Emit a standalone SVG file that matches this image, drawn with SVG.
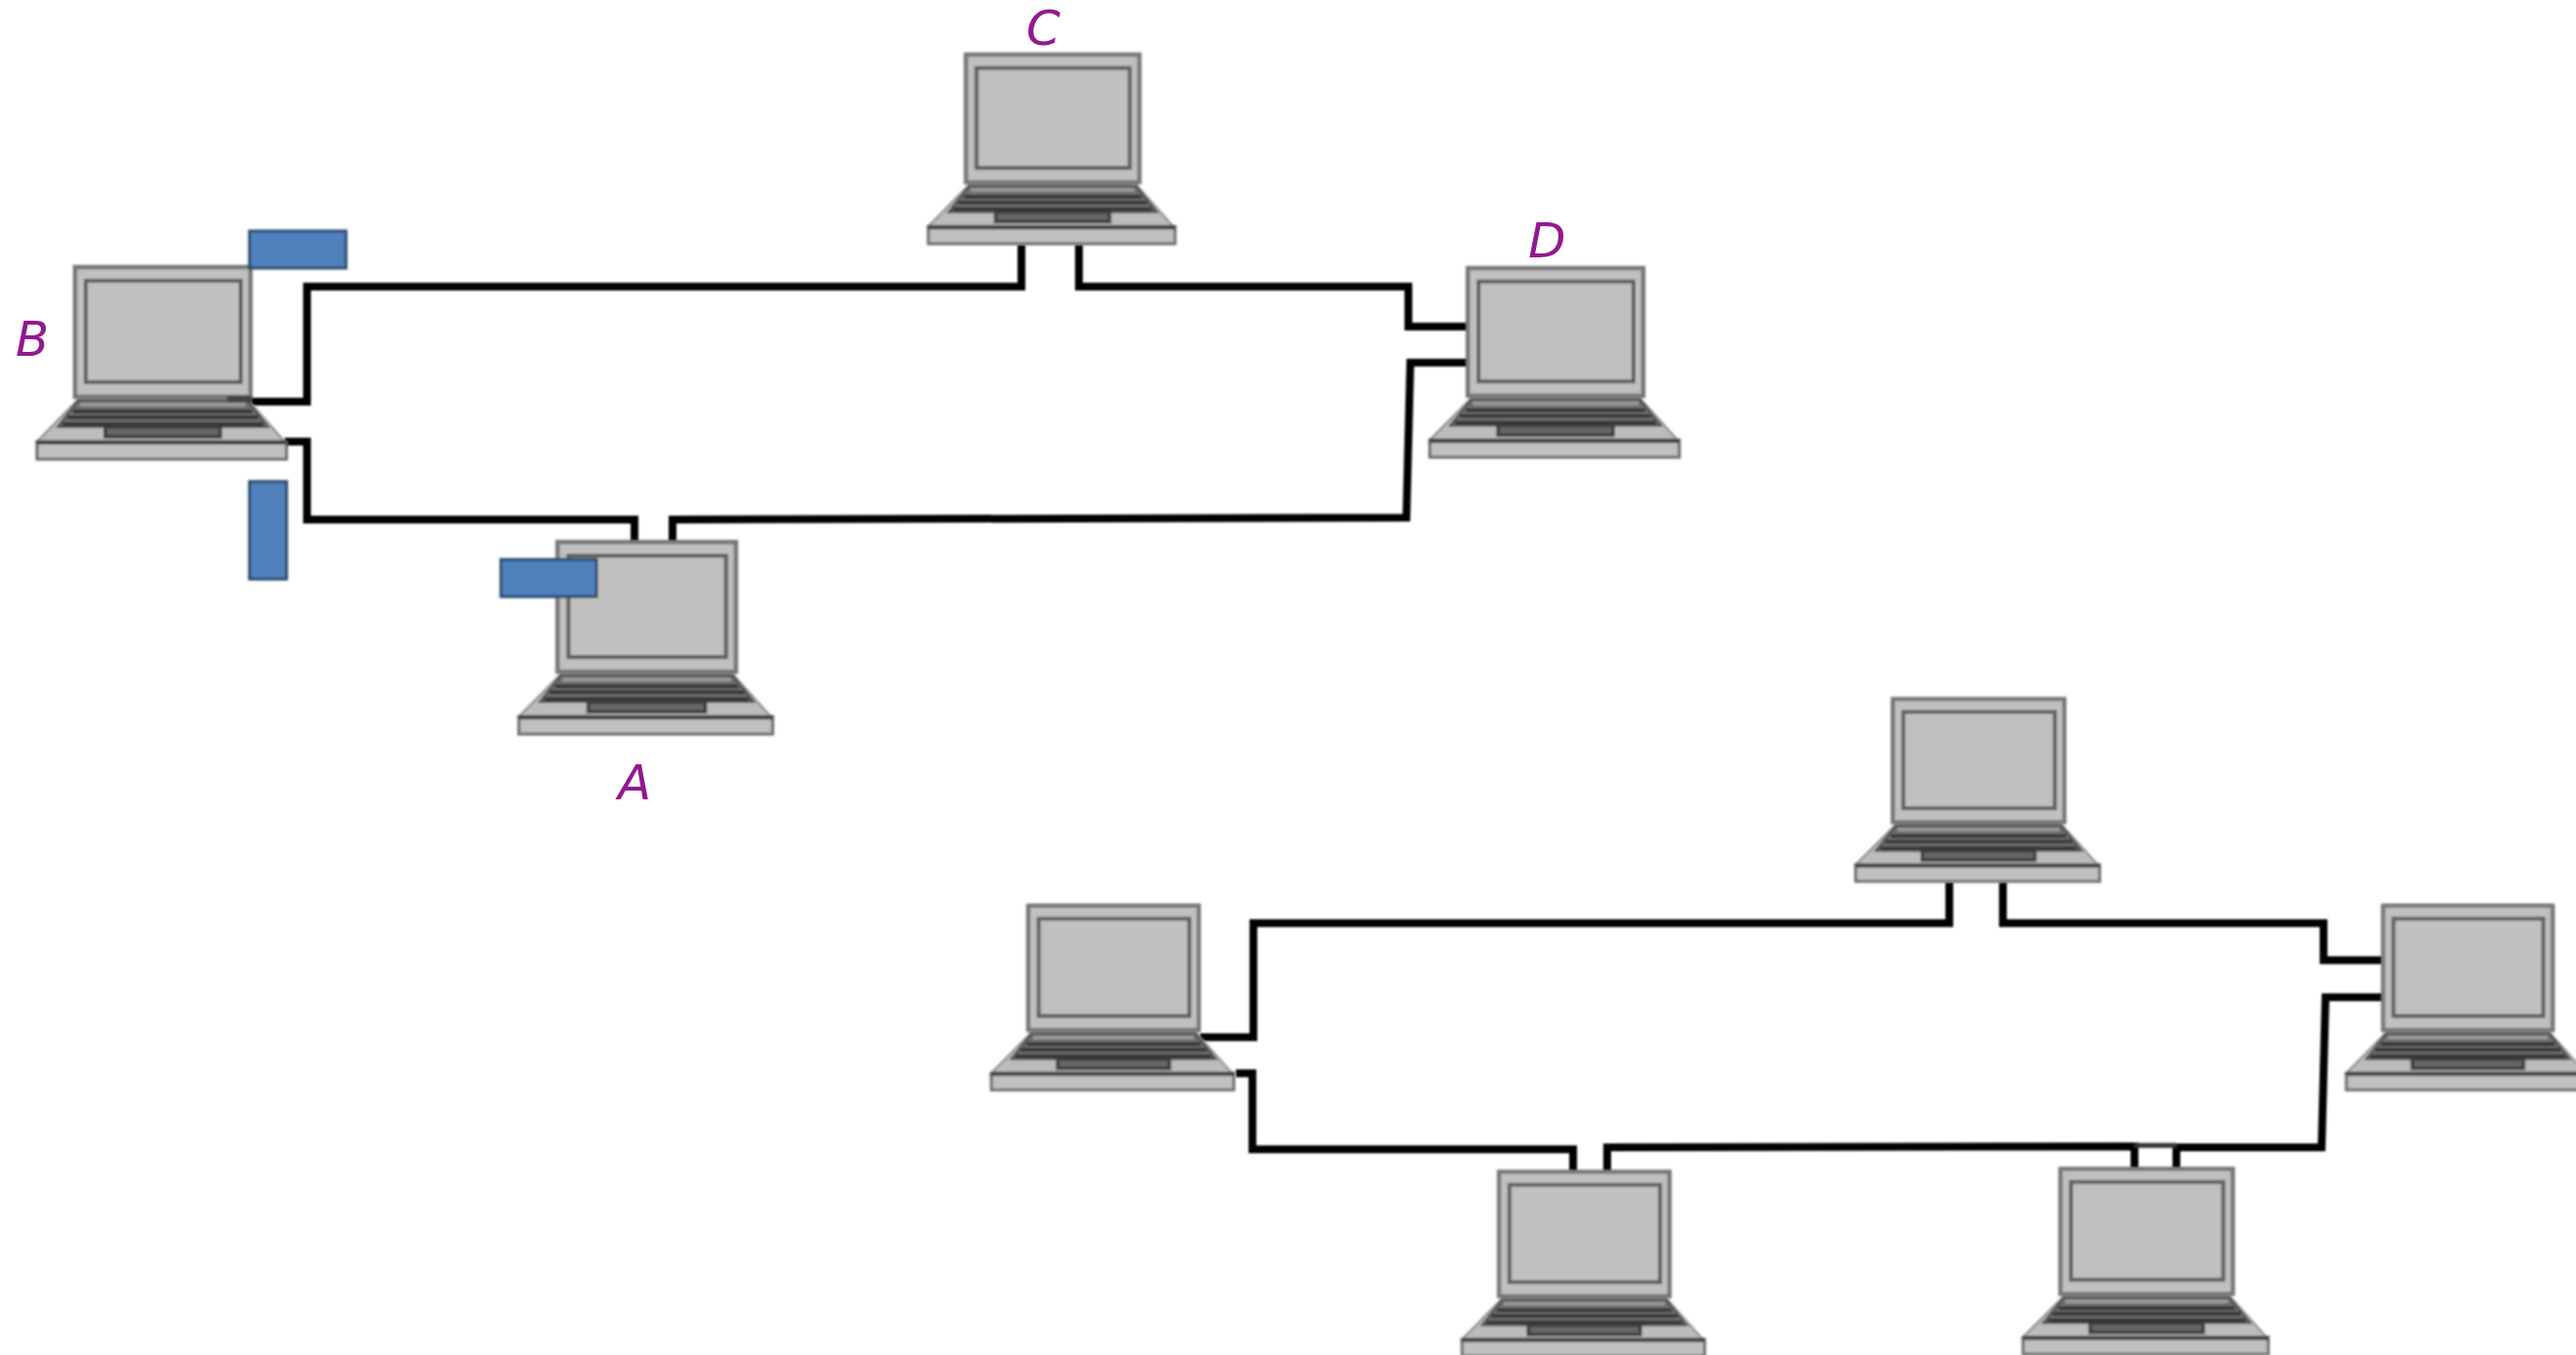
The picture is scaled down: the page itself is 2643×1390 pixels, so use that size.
<svg xmlns="http://www.w3.org/2000/svg" xmlns:xlink="http://www.w3.org/1999/xlink" width="2643" height="1390" viewBox="0 0 2643 1390">
<style>
.wire{fill:none;stroke:#000;stroke-width:8;stroke-linejoin:miter}
.thin{fill:none;stroke:#333;stroke-width:5}
.lbl{font-family:"DejaVu Sans","Open Sans",sans-serif;font-style:italic;font-size:50px;fill:#92198f}
.tag{fill:#4f81bd;stroke:#2f4a6e;stroke-width:3}
.body{fill:#c0c0c0;stroke:#777;stroke-width:4.5}
.panel{fill:#c0c0c0;stroke:#5e5e5e;stroke-width:4}
.kb{fill:#bcbcbc;stroke:#969696;stroke-width:2.5}
.keys{fill:#6c6c6c;stroke:#484848;stroke-width:2}
.key{stroke:#333;stroke-width:3.5;fill:none}
.front{fill:#c0c0c0;stroke:#6a6a6a;stroke-width:3}
.fronttop{stroke:#3f3f3f;stroke-width:4;fill:none}
.pad{fill:#666;stroke:#3c3c3c;stroke-width:3.5}
</style>
<defs>
<filter id="soft" x="-5%" y="-5%" width="110%" height="110%"><feGaussianBlur stdDeviation="0.8"/></filter>
<g id="laptop">
<path class="kb" d="M3 136H177L215 179H-39Z"/>
<path class="keys" d="M3 137H177L198 164H-18Z"/>
<path d="M5 139H175V143H5Z" fill="#999"/>
<path class="key" d="M-2 148H182M-8 154H188M-13 161H193"/>
<rect class="pad" x="31" y="164" width="118" height="10"/>
<rect class="front" x="-39" y="179" width="256" height="18"/>
<path class="fronttop" d="M-39 180H217"/>
<rect class="body" x="0" y="0" width="180" height="133"/>
<rect class="panel" x="11" y="14" width="159" height="104"/>
</g>
</defs>
<rect width="2643" height="1390" fill="#fff"/>
<g id="connectors" filter="url(#soft)">
<path class="wire" d="M257 412H315V294H1048V251"/>
<path class="wire" d="M1107 251V294H1445V335H1506"/>
<path class="wire" d="M1506 372H1447L1443 531L690 533V556"/>
<path class="wire" d="M651 556V533H315V453H292"/>
<path class="wire" d="M1231 1064H1286V947H2000V905"/>
<path class="wire" d="M2055 905V947H2384V985H2445"/>
<path class="wire" d="M2445 1023H2386L2382 1177H2233V1199"/>
<path class="wire" d="M2190 1199V1176L1649 1177V1202"/>
<path class="wire" d="M1614 1202V1179H1285V1101H1268"/>
<path class="thin" d="M2190 1175H2233"/>
</g>
<g filter="url(#soft)">
<g id="laptop-B"><use xlink:href="#laptop" href="#laptop" transform="translate(77 274)"/><rect x="233" y="406" width="26" height="7" fill="#444"/></g>
<g id="laptop-C"><use xlink:href="#laptop" href="#laptop" transform="translate(991 56) scale(.989 .985)"/></g>
<g id="laptop-D"><use xlink:href="#laptop" href="#laptop" transform="translate(1506 275) scale(1 .985)"/></g>
<g id="laptop-A"><use xlink:href="#laptop" href="#laptop" transform="translate(572 556) scale(1.017 1)"/></g>
<g id="laptop-top"><use xlink:href="#laptop" href="#laptop" transform="translate(1942 717) scale(.978 .95)"/></g>
<g id="laptop-left"><use xlink:href="#laptop" href="#laptop" transform="translate(1055 929) scale(.972 .96)"/></g>
<g id="laptop-right"><use xlink:href="#laptop" href="#laptop" transform="translate(2445 929) scale(.967 .96)"/></g>
<g id="laptop-bottom-mid"><use xlink:href="#laptop" href="#laptop" transform="translate(1538 1202) scale(.972 .96)"/></g>
<g id="laptop-bottom-right"><use xlink:href="#laptop" href="#laptop" transform="translate(2114 1199) scale(.983 .965)"/></g>
<rect id="tag-top" class="tag" x="256" y="237" width="99" height="38"/>
<rect id="tag-side" class="tag" x="256" y="494" width="38" height="100"/>
<rect id="tag-A" class="tag" x="514" y="574" width="98" height="38"/>
</g>
<g id="labels">
<text class="lbl" x="16" y="365">B</text>
<text class="lbl" x="1053" y="46">C</text>
<text class="lbl" x="1568" y="264">D</text>
<text class="lbl" x="634" y="820">A</text>
</g>
</svg>
